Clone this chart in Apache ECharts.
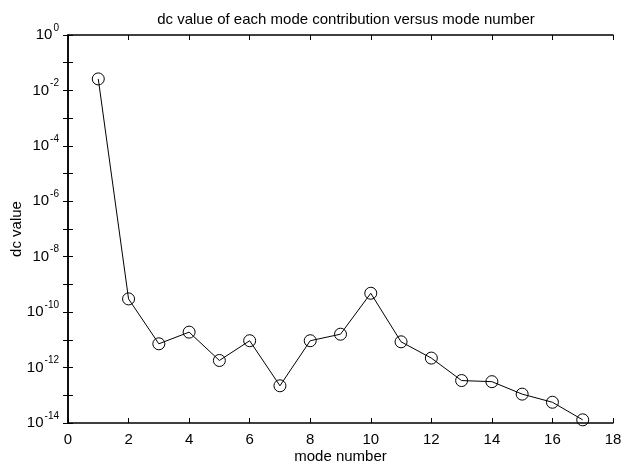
<!DOCTYPE html>
<html>
<head>
<meta charset="utf-8">
<script src="https://cdn.jsdelivr.net/npm/echarts@6/dist/echarts.min.js"></script>
<style>html,body{margin:0;padding:0;background:#fff}#c{width:626px;height:468px}</style>
</head>
<body>
<div id="c"></div>
<script>
const modeNumbers = [1, 2, 3, 4, 5, 6, 7, 8, 9, 10, 11, 12, 13, 14, 15, 16, 17];
const dcValues = [2.6e-2, 3.0e-10, 7.2e-12, 1.9e-11, 1.8e-12, 9.3e-12, 2.2e-13, 9.3e-12, 1.6e-11, 4.8e-10, 8.5e-12, 2.2e-12, 3.4e-13, 3.1e-13, 1.1e-13, 5.6e-14, 1.3e-14];
const xTicks = [0, 2, 4, 6, 8, 10, 12, 14, 16, 18];
const yExponents = [0, -2, -4, -6, -8, -10, -12, -14];
const titleText = 'dc value of each mode contribution versus mode number';
const xName = 'mode number';
const yName = 'dc value';

const FONT = '"Liberation Sans", Arial, sans-serif';
const chart = echarts.init(document.getElementById('c'), null, {renderer: 'canvas'});
const axisLineStyle = {color: '#000', width: 1.5};
const yFormatter = function (v) {
  const e = Math.round(Math.log10(v));
  if (yExponents.indexOf(e) < 0) return '';
  return '{b|10}{s|' + e + '}';
};
const richY = {
  b: {fontSize: 15, fontFamily: FONT, color: '#000', lineHeight: 24},
  s: {fontSize: 10, fontFamily: FONT, color: '#000', lineHeight: 10, padding: [0, 0, 14, 1]}
};
const option = {
  animation: false,
  backgroundColor: '#fff',
  title: {
    text: titleText, left: 341, top: 7, textAlign: 'center',
    textStyle: {fontFamily: FONT, fontSize: 15, fontWeight: 'normal', color: '#000'}
  },
  grid: {left: 68, right: 13, top: 35, bottom: 45, containLabel: false, outerBoundsMode: 'none'},
  xAxis: [{
    type: 'value', min: 0, max: 18, interval: 2,
    name: xName, nameLocation: 'middle', nameGap: 26, nameMoveOverlap: false,
    nameTextStyle: {fontFamily: FONT, fontSize: 15, color: '#000'},
    axisLine: {show: true, lineStyle: axisLineStyle},
    axisTick: {show: true, inside: true, length: 5, lineStyle: {color: '#000'}},
    axisLabel: {fontFamily: FONT, fontSize: 15, color: '#000', margin: 9,
      formatter: function (v) { return xTicks.indexOf(v) >= 0 ? String(v) : ''; }},
    splitLine: {show: false}
  }, {
    type: 'value', min: 0, max: 18, interval: 2, position: 'top',
    axisLine: {show: true, lineStyle: axisLineStyle},
    axisTick: {show: true, inside: true, length: 5, lineStyle: {color: '#000'}},
    axisLabel: {show: false}, splitLine: {show: false}
  }],
  yAxis: [{
    type: 'log', logBase: 10, min: 1e-14, max: 1, interval: 1,
    name: yName, nameLocation: 'middle', nameGap: 44, nameRotate: 90, nameMoveOverlap: false,
    nameTextStyle: {fontFamily: FONT, fontSize: 15, color: '#000'},
    axisLine: {show: true, lineStyle: axisLineStyle},
    axisTick: {show: true, inside: true, length: 5, lineStyle: {color: '#000'}},
    axisLabel: {formatter: yFormatter, rich: richY, margin: 9},
    splitLine: {show: false}
  }, {
    type: 'log', logBase: 10, min: 1e-14, max: 1, interval: 1, position: 'right',
    axisLine: {show: true, lineStyle: axisLineStyle},
    axisTick: {show: true, inside: true, length: 5, lineStyle: {color: '#000'}},
    axisLabel: {show: false}, splitLine: {show: false}
  }],
  series: [{
    type: 'line',
    data: modeNumbers.map((m, i) => [m, dcValues[i]]),
    symbol: 'circle', symbolSize: 12,
    lineStyle: {color: '#000', width: 1},
    itemStyle: {color: 'rgba(255,255,255,0)', borderColor: '#000', borderWidth: 1},
    silent: true
  }]
};
chart.setOption(option);
</script>
</body>
</html>
